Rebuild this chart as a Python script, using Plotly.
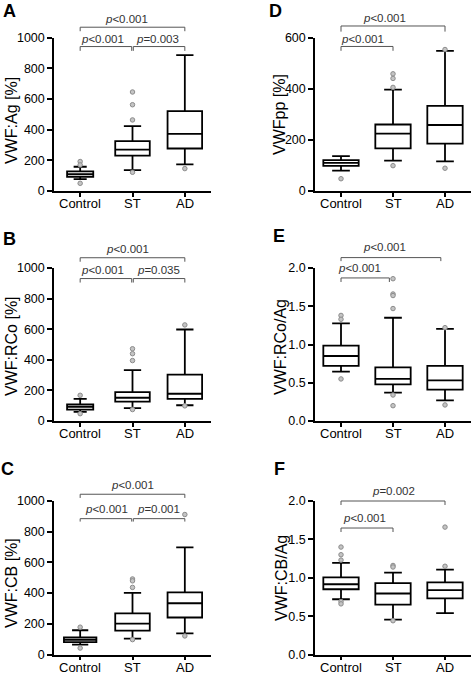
import plotly.graph_objects as go

W, H = 474, 677
categories = ["Control", "ST", "AD"]

# ---- Panel A: VWF:Ag [%]
A_q1 = [92, 231, 277]
A_med = [109, 270, 372]
A_q3 = [128, 325, 521]
A_lo = [77, 136, 174]
A_hi = [158, 423, 885]
A_out = [[192, 170, 50], [645, 562, 463, 122], [146]]

# ---- Panel B: VWF:RCo [%]
B_q1 = [75, 127, 145]
B_med = [92, 152, 178]
B_q3 = [108, 189, 303]
B_lo = [59, 84, 103]
B_hi = [144, 333, 598]
B_out = [[168, 48], [472, 440, 395, 75], [628, 99]]

# ---- Panel C: VWF:CB [%]
C_q1 = [81, 155, 241]
C_med = [96, 201, 334]
C_q3 = [112, 268, 405]
C_lo = [64, 104, 137]
C_hi = [158, 401, 698]
C_out = [[178, 42], [492, 480, 437, 97], [912, 121]]

# ---- Panel D: VWFpp [%]
D_q1 = [98, 167, 185]
D_med = [110, 224, 258]
D_q3 = [121, 260, 333]
D_lo = [80, 119, 116]
D_hi = [136, 396, 548]
D_out = [[48], [458, 440, 405, 99], [553, 89]]

# ---- Panel E: VWF:RCo/Ag
E_q1 = [0.72, 0.48, 0.41]
E_med = [0.85, 0.55, 0.53]
E_q3 = [0.985, 0.70, 0.72]
E_lo = [0.645, 0.37, 0.27]
E_hi = [1.275, 1.35, 1.205]
E_out = [[1.38, 1.33, 0.55], [1.86, 1.66, 1.64, 1.47, 0.34, 0.20], [1.22, 0.21]]

# ---- Panel F: VWF:CB/Ag
F_q1 = [0.85, 0.65, 0.73]
F_med = [0.915, 0.795, 0.84]
F_q3 = [1.005, 0.93, 0.94]
F_lo = [0.72, 0.455, 0.54]
F_hi = [1.195, 1.067, 1.105]
F_out = [[1.40, 1.30, 1.23, 0.69, 0.66], [1.16, 1.14, 0.44], [1.66, 1.15]]

# p-value labels
A_p = ["<0.001", "=0.003", "<0.001"]
B_p = ["<0.001", "=0.035", "<0.001"]
C_p = ["<0.001", "=0.001", "<0.001"]
D_p = ["<0.001", "<0.001"]
E_p = ["<0.001", "<0.001"]
F_p = ["<0.001", "=0.002"]

titles = ["VWF:Ag [%]", "VWF:RCo [%]", "VWF:CB [%]", "VWFpp [%]", "VWF:RCo/Ag", "VWF:CB/Ag"]
letters = ["A", "B", "C", "D", "E", "F"]
ymax = [1000, 1000, 1000, 600, 2.0, 2.0]
dticks = [200, 200, 200, 200, 0.5, 0.5]

panels = [
    (A_q1, A_med, A_q3, A_lo, A_hi, A_out),
    (B_q1, B_med, B_q3, B_lo, B_hi, B_out),
    (C_q1, C_med, C_q3, C_lo, C_hi, C_out),
    (D_q1, D_med, D_q3, D_lo, D_hi, D_out),
    (E_q1, E_med, E_q3, E_lo, E_hi, E_out),
    (F_q1, F_med, F_q3, F_lo, F_hi, F_out),
]

# layout geometry (pixels)
col_x = [(54, 211), (315, 471)]
row_y = [(37.5, 191), (268, 421), (501, 654.5)]
letter_pos = [(9, 11), (9, 239), (8, 469), (275, 11), (279, 236), (279, 469)]
title_pos = [(11, 121), (11, 346), (11, 583), (279, 115), (280, 347), (281, 578)]
CAT_LABEL_OFFSET = 12.5  # px below the x axis line

# brackets: (x0, x1, y, ytick) in data units
brackets = [
    [(0, 0.985, 941, 913), (1.015, 2, 941, 913), (0, 2, 1067, 1041)],
    [(0, 0.985, 931, 905), (1.015, 2, 931, 905), (0, 2, 1067, 1041)],
    [(0, 0.985, 885, 866), (1.015, 2, 885, 866), (0, 2, 1044, 1020)],
    [(0, 1, 565, 548), (0, 2, 645, 623)],
    [(0, 0.93, 1.87, 1.817), (0, 1.92, 2.136, 2.09)],
    [(0, 1, 1.648, 1.596), (0, 2, 2.0, 1.948)],
]
ptexts = [
    [(0.42, 987), (1.48, 987), (0.88, 1121)],
    [(0.42, 985), (1.5, 985), (0.9, 1127)],
    [(0.5, 950), (1.5, 950), (1.0, 1102)],
    [(0.42, 596), (0.83, 675)],
    [(0.36, 2.0), (0.83, 2.28)],
    [(0.45, 1.785), (1.0, 2.13)],
]
pvals = [A_p, B_p, C_p, D_p, E_p, F_p]
box_w = [[0.5, 0.66, 0.66], [0.5, 0.66, 0.66], [0.62, 0.66, 0.66],
         [0.68, 0.68, 0.68], [0.68, 0.68, 0.68], [0.68, 0.68, 0.68]]

FONT = "Arial, Liberation Sans, sans-serif"
fig = go.Figure()
layout = dict(
    width=W, height=H, margin=dict(l=0, r=0, t=0, b=0, autoexpand=False),
    paper_bgcolor="white", plot_bgcolor="white", showlegend=False,
    font=dict(family=FONT, color="black"),
)
shapes = []
annotations = []

def xdom(i):
    return (i + 0.5) / 3.0

for k, (q1, med, q3, lo, hi, outs) in enumerate(panels):
    col = 0 if k < 3 else 1
    row = k % 3
    ax = "" if k == 0 else str(k + 1)
    xa, ya = "x" + ax, "y" + ax
    x0p, x1p = col_x[col]
    t, b = row_y[row]
    for i, cat in enumerate(categories):
        fig.add_trace(go.Box(
            x=[cat], q1=[q1[i]], median=[med[i]], q3=[q3[i]],
            lowerfence=[lo[i]], upperfence=[hi[i]],
            xaxis=xa, yaxis=ya, boxpoints=False, width=box_w[k][i],
            whiskerwidth=0.5, fillcolor="white",
            line=dict(color="black", width=1.8), hoverinfo="skip",
        ))
        fig.add_trace(go.Scatter(
            x=[cat] * len(outs[i]), y=outs[i], mode="markers",
            xaxis=xa, yaxis=ya, cliponaxis=False,
            marker=dict(symbol="circle", size=4.5, color="#c4c4c4",
                        line=dict(width=1, color="#8c8c8c")),
            hoverinfo="skip",
        ))
        # category label below the axis
        annotations.append(dict(
            xref=xa + " domain", yref="paper", x=xdom(i),
            y=1 - (b + CAT_LABEL_OFFSET) / H, text=cat, showarrow=False,
            xanchor="center", yanchor="middle",
            font=dict(size=13, family=FONT, color="black"),
        ))
    layout["xaxis" + ax] = dict(
        domain=[x0p / W, x1p / W], anchor=ya, type="category",
        categoryorder="array", categoryarray=categories,
        range=[-0.5, 2.5], showline=True, linecolor="black", linewidth=1.5,
        ticks="outside", ticklen=4, tickwidth=1.5, tickcolor="black",
        showticklabels=False,
        showgrid=False, zeroline=False, fixedrange=True,
    )
    yfmt = ".1f" if ymax[k] < 10 else "d"
    layout["yaxis" + ax] = dict(
        domain=[1 - b / H, 1 - t / H], anchor=xa,
        range=[0, ymax[k]], dtick=dticks[k], tick0=0, tickformat=yfmt,
        showline=True, linecolor="black", linewidth=1.5,
        ticks="outside", ticklen=5, tickwidth=1.5, tickcolor="black",
        showgrid=False, zeroline=False, fixedrange=True,
        tickfont=dict(size=12.5, family=FONT, color="black"),
    )
    for (bx0, bx1, by, byt) in brackets[k]:
        yv, yt = by / ymax[k], byt / ymax[k]
        for (sx0, sy0, sx1, sy1) in [(xdom(bx0), yt, xdom(bx0), yv),
                                     (xdom(bx0), yv, xdom(bx1), yv),
                                     (xdom(bx1), yv, xdom(bx1), yt)]:
            shapes.append(dict(type="line", xref=xa + " domain", yref=ya + " domain",
                               x0=sx0, y0=sy0, x1=sx1, y1=sy1,
                               line=dict(color="#555555", width=1)))
    for (tx, ty), pv in zip(ptexts[k], pvals[k]):
        annotations.append(dict(
            xref=xa + " domain", yref=ya + " domain", x=xdom(tx), y=ty / ymax[k],
            text="<i>p</i>" + pv.replace("<", "&lt;"), showarrow=False,
            xanchor="center", yanchor="middle",
            font=dict(size=11.5, family=FONT, color="#333333"),
        ))
    lx, ly = letter_pos[k]
    annotations.append(dict(
        xref="paper", yref="paper", x=lx / W, y=1 - ly / H, text="<b>" + letters[k] + "</b>",
        showarrow=False, xanchor="center", yanchor="middle",
        font=dict(size=18, family=FONT, color="black"),
    ))
    tx_, ty_ = title_pos[k]
    annotations.append(dict(
        xref="paper", yref="paper", x=tx_ / W, y=1 - ty_ / H,
        text=titles[k], textangle=-90, showarrow=False,
        xanchor="center", yanchor="middle",
        font=dict(size=16, family=FONT, color="black"),
    ))

layout["shapes"] = shapes
layout["annotations"] = annotations
fig.update_layout(**layout)
fig.write_html("out.html", config={"displayModeBar": False},
               post_script="document.body.style.margin='0px';")
